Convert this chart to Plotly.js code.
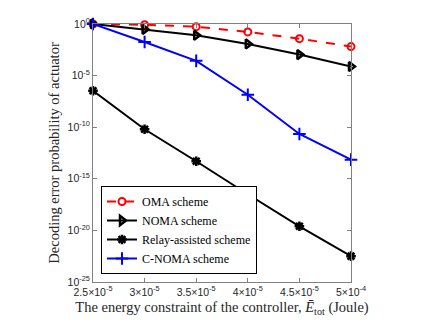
<!DOCTYPE html>
<html>
<head>
<meta charset="utf-8">
<script src="https://cdn.plot.ly/plotly-3.0.1.min.js"></script>
<style>
  body { margin: 0; background: #fff; }
  #fig { width: 429px; height: 323px; }
</style>
</head>
<body>
<div id="fig"></div>
<script>
  // energy constraint (x positions) and their tick labels
  const energy = [2.5, 3, 3.5, 4, 4.5, 5];
  const energyLabels = ["2.5×10<sup>-5</sup>", "3×10<sup>-5</sup>", "3.5×10<sup>-5</sup>",
                        "4×10<sup>-5</sup>", "4.5×10<sup>-5</sup>", "5×10<sup>-4</sup>"];

  // decoding error probability
  const omaErr   = [1, 0.85, 0.55, 0.17, 0.038, 0.0065];
  const nomaErr  = [1, 0.3, 0.081, 0.0118, 1.1e-3, 7.6e-5];
  const relayErr = [3.4e-7, 6.3e-11, 5e-14, 3.2e-17, 2.5e-20, 3.2e-23];
  const cnomaErr = [1, 0.018, 2.7e-4, 1.4e-7, 2.2e-11, 7.2e-14];

  const yTickVals = [1, 1e-5, 1e-10, 1e-15, 1e-20, 1e-25];
  const yTickText = ["10<sup>0</sup>", "10<sup>-5</sup>", "10<sup>-10</sup>",
                     "10<sup>-15</sup>", "10<sup>-20</sup>", "10<sup>-25</sup>"];

  const series = [];
  series.push({x: energy, y: omaErr, mode: "lines+markers", name: "OMA scheme",
               line: {color: "#ff0000", width: 2, dash: "dash"},
               marker: {symbol: "circle-open", size: 7, color: "#ff0000", line: {width: 2}},
               cliponaxis: false});
  series.push({x: energy, y: nomaErr, mode: "lines+markers", name: "NOMA scheme",
               line: {color: "#000000", width: 2},
               marker: {symbol: "triangle-right-open", size: 8, color: "#000000", line: {width: 2.5}},
               cliponaxis: false});
  series.push({x: energy, y: relayErr, mode: "lines+markers", name: "Relay-assisted scheme",
               line: {color: "#000000", width: 2},
               marker: {symbol: "asterisk-open", size: 8, color: "#000000", line: {width: 2.5}},
               cliponaxis: false});
  series.push({x: energy, y: cnomaErr, mode: "lines+markers", name: "C-NOMA scheme",
               line: {color: "#0000ff", width: 2},
               marker: {symbol: "cross-thin-open", size: 9, color: "#0000ff", line: {width: 2}},
               cliponaxis: false});

  const tickFont = {family: "Liberation Sans, Arial, sans-serif", size: 10.5, color: "#262626"};
  const titleFont = {family: "Liberation Serif, Times New Roman, serif", size: 14.5, color: "#262626"};

  const layout = {
    width: 429, height: 323,
    margin: {l: 93, r: 78, t: 24, b: 41},
    paper_bgcolor: "#ffffff", plot_bgcolor: "#ffffff",
    showlegend: true,
    xaxis: {
      range: [2.5, 5], tickvals: energy, ticktext: energyLabels,
      ticks: "inside", ticklen: 4, tickcolor: "#808080",
      showline: true, linecolor: "#808080", linewidth: 1, mirror: "ticks",
      showgrid: false, zeroline: false, tickfont: tickFont,
      title: {text: "The energy constraint of the controller, <i>Ē</i><sub>tot</sub> (Joule)",
              font: titleFont, standoff: 5}
    },
    yaxis: {
      type: "log", range: [-25, 0],
      tickvals: yTickVals, ticktext: yTickText,
      ticks: "inside", ticklen: 4, tickcolor: "#808080",
      showline: true, linecolor: "#808080", linewidth: 1, mirror: "ticks",
      showgrid: false, zeroline: false, tickfont: tickFont,
      title: {text: "Decoding error probability of actuator", font: titleFont, standoff: 4}
    },
    legend: {
      x: 0.031, y: 0.031, xanchor: "left", yanchor: "bottom",
      bgcolor: "#ffffff", bordercolor: "#000000", borderwidth: 1,
      font: {family: "Liberation Serif, Times New Roman, serif", size: 12, color: "#000000"},
      tracegroupgap: 0, itemwidth: 30
    }
  };

  Plotly.newPlot("fig", series, layout, {displayModeBar: false, staticPlot: true});
</script>
</body>
</html>
